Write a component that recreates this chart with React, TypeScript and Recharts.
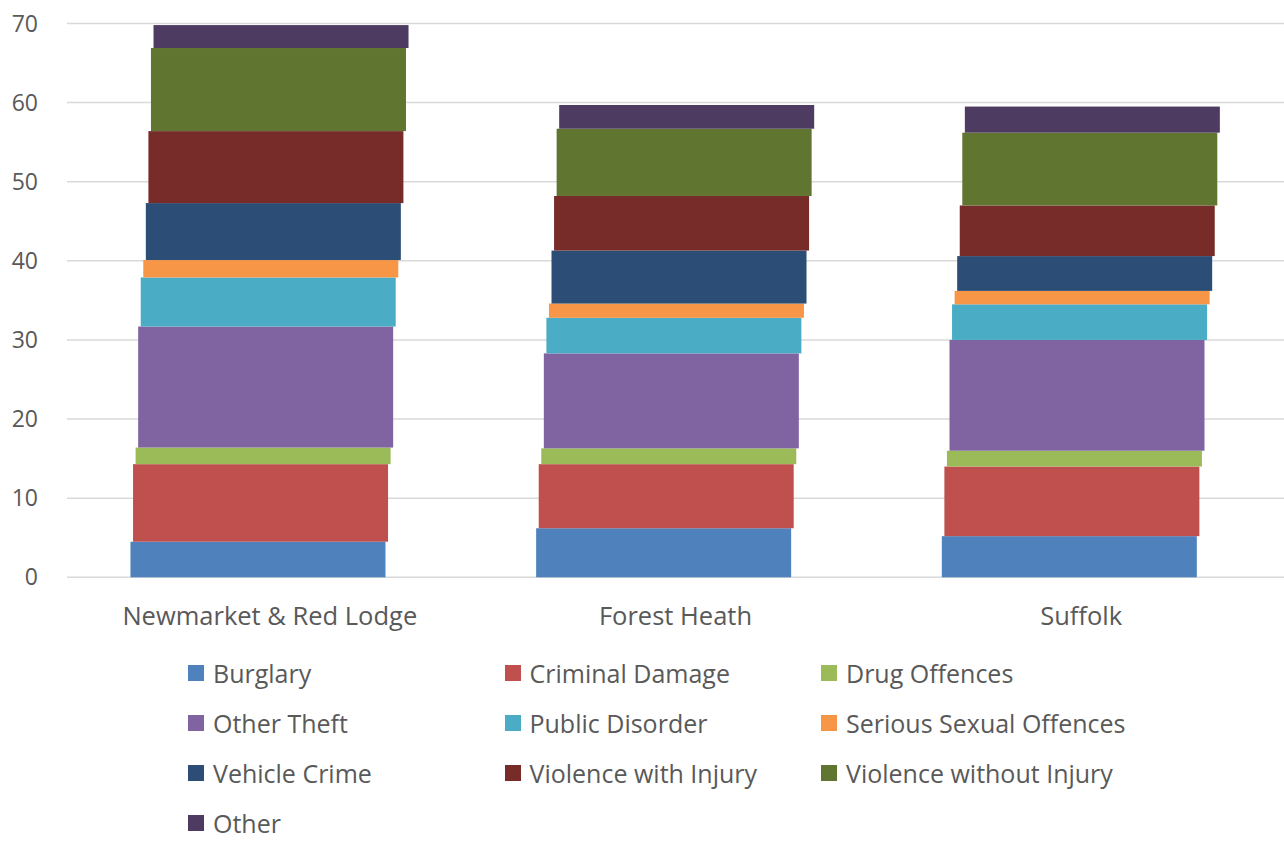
import React from "react";
import { BarChart, Bar, XAxis, YAxis, CartesianGrid } from "recharts";

const categories = ["Newmarket & Red Lodge", "Forest Heath", "Suffolk"];

const burglary = [4.5, 6.2, 5.2];
const criminalDamage = [9.8, 8.1, 8.8];
const drugOffences = [2.1, 2.0, 2.0];
const otherTheft = [15.3, 12.0, 14.0];
const publicDisorder = [6.2, 4.5, 4.5];
const seriousSexual = [2.2, 1.8, 1.7];
const vehicleCrime = [7.2, 6.7, 4.4];
const violenceWith = [9.1, 6.9, 6.4];
const violenceWithout = [10.5, 8.5, 9.2];
const other = [2.9, 3.0, 3.3];

const yTicks = [0, 10, 20, 30, 40, 50, 60, 70];

const series = [
  { key: "burglary", name: "Burglary", color: "#4F81BD", values: burglary },
  { key: "criminalDamage", name: "Criminal Damage", color: "#C0504D", values: criminalDamage },
  { key: "drugOffences", name: "Drug Offences", color: "#9BBB59", values: drugOffences },
  { key: "otherTheft", name: "Other Theft", color: "#8064A2", values: otherTheft },
  { key: "publicDisorder", name: "Public Disorder", color: "#4BACC6", values: publicDisorder },
  { key: "seriousSexual", name: "Serious Sexual Offences", color: "#F79646", values: seriousSexual },
  { key: "vehicleCrime", name: "Vehicle Crime", color: "#2C4D75", values: vehicleCrime },
  { key: "violenceWith", name: "Violence with Injury", color: "#772C2A", values: violenceWith },
  { key: "violenceWithout", name: "Violence without Injury", color: "#5F7530", values: violenceWithout },
  { key: "other", name: "Other", color: "#4D3B62", values: other },
];

const data = categories.map((c, i) => {
  const row: Record<string, any> = { name: c };
  series.forEach((s) => (row[s.key] = s.values[i]));
  return row;
});

// each layer is nudged right a little, like the old Excel 3D stack
const SHIFT = 2.56;
const shiftedShape = (i: number) => (props: any) => {
  const { x, y, width, height, fill } = props;
  const dx = (i - (series.length - 1) / 2) * SHIFT;
  return <rect x={x + dx} y={y} width={width} height={height} fill={fill} />;
};

const FONT = "'Open Sans', sans-serif";
const TEXT = "#595959";

export default function App() {
  return (
    <div style={{ position: "absolute", left: 0, top: 0, width: 1284, height: 841, background: "#fff", fontFamily: FONT, overflow: "hidden" }}>
      <BarChart width={1284} height={650} data={data} margin={{ top: 23.5, right: 0, bottom: 0, left: 0 }}>
        <CartesianGrid vertical={false} stroke="#d9d9d9" strokeWidth={1.5} />
        <XAxis
          dataKey="name"
          axisLine={false}
          tickLine={false}
          height={72.7}
          tickMargin={24}
          tick={{ fill: TEXT, fontSize: 25.5, fontFamily: FONT }}
        />
        <YAxis
          domain={[0, 70]}
          ticks={yTicks}
          width={67}
          axisLine={false}
          tickLine={false}
          tickMargin={23}
          tick={{ fill: TEXT, fontSize: 23, fontFamily: FONT }}
        />
        {series.map((s, i) => (
          <Bar
            key={s.key}
            dataKey={s.key}
            name={s.name}
            stackId="a"
            fill={s.color}
            barSize={255}
            shape={shiftedShape(i)}
            isAnimationActive={false}
          />
        ))}
      </BarChart>
      <div
        style={{
          position: "absolute",
          left: 188,
          top: 660,
          display: "grid",
          gridTemplateColumns: "316.5px 316.5px 316.5px",
          gridAutoRows: "26px",
          rowGap: 24,
        }}
      >
        {series.map((s) => (
          <div key={s.key} style={{ display: "flex", alignItems: "center", whiteSpace: "nowrap", height: 26 }}>
            <span style={{ width: 16, height: 16, background: s.color, marginRight: 9, flexShrink: 0 }} />
            <span style={{ color: TEXT, fontSize: 25, lineHeight: 1 }}>{s.name}</span>
          </div>
        ))}
      </div>
    </div>
  );
}
